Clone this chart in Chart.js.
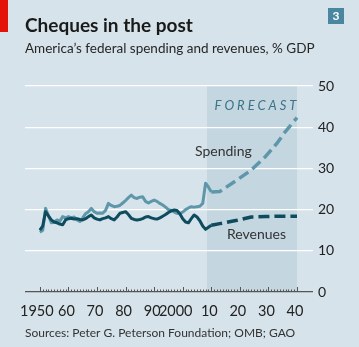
<!DOCTYPE html>
<html>
<head>
<meta charset="utf-8">
<script src="https://cdn.jsdelivr.net/npm/chart.js@4/dist/chart.umd.min.js"></script>
<style>
  html, body { margin: 0; padding: 0; background: #d6e3ea; }
  #wrap { width: 359px; height: 347px; position: relative; }
</style>
</head>
<body>
<div id="wrap"><canvas id="chart"></canvas></div>
<script>
// Cheques in the post - federal spending vs revenues, % GDP

// x-axis decades and their labels
const decadeTicks = [1950, 1960, 1970, 1980, 1990, 2000, 2010, 2020, 2030, 2040];
const decadeLabels = ['1950', '60', '70', '80', '90', '2000', '10', '20', '30', '40'];
const yTicks = [0, 10, 20, 30, 40, 50];

// actual years 1950-2010
const actualYears = Array.from({ length: 61 }, (_, i) => 1950 + i);

const spendingActual = [
    14.5, 15.0, 20.3, 18.5, 16.8, 17.0, 17.5, 17.2, 18.3, 18.0,
    18.3, 18.0, 18.2, 17.5, 17.1, 18.0, 19.0, 19.5, 20.3, 19.5,
    19.1, 19.2, 19.1, 19.8, 21.5, 21.0, 20.7, 20.8, 21.0, 21.6,
    22.2, 22.9, 23.5, 22.9, 22.7, 23.0, 23.1, 22.0, 21.6, 22.0,
    22.3, 22.0, 21.5, 21.1, 20.6, 20.0, 19.8, 19.4, 19.1, 19.0,
    19.4, 20.0, 20.4, 20.7, 20.6, 20.7, 20.8, 21.5, 26.4, 25.5,
    24.3
];

const revenueActual = [
    15.0, 16.0, 19.5, 18.5, 17.5, 17.0, 16.8, 16.5, 16.3, 17.5,
    17.8, 17.9, 17.7, 17.8, 17.6, 17.5, 17.8, 18.3, 18.7, 18.0,
    17.7, 17.5, 17.8, 18.0, 18.3, 17.8, 17.5, 18.2, 19.1, 19.3,
    19.5, 18.8, 17.9, 17.6, 17.5, 17.6, 17.8, 18.2, 18.3, 18.0,
    17.8, 17.7, 18.0, 18.4, 18.8, 19.3, 19.7, 19.9, 19.8, 19.0,
    17.8, 17.0, 16.8, 17.8, 18.7, 18.2, 17.3, 16.0, 15.2, 15.7,
    16.2
];

// forecast
const forecastYears = [2010, 2013, 2019, 2024, 2029, 2033, 2036, 2040];
const spendingForecast = [24.3, 24.4, 27.2, 29.6, 32.9, 36.1, 39.0, 42.3];
const revenueForecast = [16.2, 16.6, 17.4, 18.2, 18.3, 18.4, 18.4, 18.4];

const forecastStart = 2008.5;
const forecastEnd = 2040;

const BG = '#d6e3ea';
const SHADE = '#c4d6e0';
const LIGHT = '#5f97aa';
const DARK = '#0e4b5e';
const FONT = 'Lato, "Open Sans", sans-serif';
const NARROW = '"Liberation Sans Narrow", "Arial Narrow", Lato, sans-serif';

function pts(xs, ys) {
    return xs.map((x, i) => ({ x: x, y: ys[i] }));
}

// background, forecast shading, titles, axis ticks, labels
const decor = {
    id: 'decor',
    beforeDraw(chart) {
        const ctx = chart.ctx;
        const x = chart.scales.x, y = chart.scales.y;
        ctx.save();
        ctx.fillStyle = BG;
        ctx.fillRect(0, 0, chart.width, chart.height);
        ctx.fillStyle = SHADE;
        const x0 = x.getPixelForValue(forecastStart);
        const x1 = x.getPixelForValue(forecastEnd);
        ctx.fillRect(x0, y.getPixelForValue(50), x1 - x0, y.getPixelForValue(0) - y.getPixelForValue(50));
        ctx.restore();
    },
    afterDraw(chart) {
        const ctx = chart.ctx;
        const x = chart.scales.x, y = chart.scales.y;
        ctx.save();

        // red corner tag
        ctx.fillStyle = '#e3120b';
        ctx.fillRect(0, 0, 8, 32);

        // number box
        ctx.fillStyle = '#4a86a0';
        ctx.fillRect(328, 8, 16, 16);
        ctx.fillStyle = '#fff';
        ctx.font = 'bold 12px ' + FONT;
        ctx.textAlign = 'center';
        ctx.textBaseline = 'middle';
        ctx.fillText('3', 336, 16.5);

        // title + subtitle
        ctx.textAlign = 'left';
        ctx.textBaseline = 'alphabetic';
        ctx.fillStyle = '#1a1a1a';
        ctx.font = 'bold 19px ' + FONT;
        ctx.fillText('Cheques in the post', 25, 32);
        ctx.font = '13.5px ' + FONT;
        ctx.fillStyle = '#262626';
        ctx.fillText('America\u2019s federal spending and revenues, % GDP', 25, 52.5);

        // year ticks on the zero line
        const base = y.getPixelForValue(0);
        ctx.strokeStyle = '#555';
        ctx.lineWidth = 1;
        for (let yr = 1950; yr <= 2040; yr++) {
            const px = Math.round(x.getPixelForValue(yr)) + 0.5;
            const len = yr % 10 === 0 ? 5 : 2.5;
            ctx.beginPath();
            ctx.moveTo(px, base);
            ctx.lineTo(px, base - len);
            ctx.stroke();
        }

        // x labels
        ctx.fillStyle = '#222';
        ctx.font = '14.5px ' + NARROW;
        ctx.textAlign = 'center';
        ctx.textBaseline = 'alphabetic';
        decadeTicks.forEach((yr, i) => {
            let dx = -2;
            if (yr === 2000) dx = -7;
            if (yr === 1950) dx = -3;
            ctx.fillText(decadeLabels[i], x.getPixelForValue(yr) + dx, 315.5);
        });

        // series labels
        ctx.font = '14px ' + FONT;
        ctx.textAlign = 'left';
        ctx.textBaseline = 'middle';
        ctx.fillStyle = '#333';
        ctx.fillText('Spending', x.getPixelForValue(2004.3), y.getPixelForValue(34));
        ctx.fillText('Revenues', x.getPixelForValue(2015.5), y.getPixelForValue(14));

        // forecast
        ctx.font = 'italic 13px ' + FONT;
        ctx.fillStyle = '#3b7489';
        ctx.letterSpacing = '3px';
        ctx.textAlign = 'right';
        ctx.fillText('FORECAST', x.getPixelForValue(2039.8) + 3, y.getPixelForValue(45.1));
        ctx.letterSpacing = '0px';

        // source
        ctx.textAlign = 'left';
        ctx.textBaseline = 'alphabetic';
        ctx.fillStyle = '#333';
        ctx.font = '12px ' + FONT;
        ctx.fillText('Sources: Peter G. Peterson Foundation; OMB; GAO', 25, 337);

        ctx.restore();
    }
};

document.addEventListener('DOMContentLoaded', function() {
    const ctx = document.getElementById('chart').getContext('2d');

    new Chart(ctx, {
        type: 'line',
        data: {
            datasets: [{
                label: 'Revenues',
                data: pts(actualYears, revenueActual),
                borderColor: DARK,
                borderWidth: 3
            }, {
                label: 'Revenues forecast',
                data: pts(forecastYears, revenueForecast),
                borderColor: DARK,
                borderWidth: 3.5,
                borderDash: [11, 5]
            }, {
                label: 'Spending',
                data: pts(actualYears, spendingActual),
                borderColor: LIGHT,
                borderWidth: 3
            }, {
                label: 'Spending forecast',
                data: pts(forecastYears, spendingForecast),
                borderColor: LIGHT,
                borderWidth: 3.5,
                borderDash: [11, 5]
            }]
        },
        options: {
            responsive: true,
            maintainAspectRatio: false,
            animation: false,
            layout: { padding: { left: 25, top: 86, right: 0, bottom: 55 } },
            elements: {
                point: { radius: 0 },
                line: { tension: 0, borderJoinStyle: 'round', borderCapStyle: 'butt' }
            },
            plugins: {
                legend: { display: false },
                tooltip: { enabled: false }
            },
            scales: {
                x: {
                    type: 'linear',
                    min: 1944.8,
                    max: 2045.6,
                    grid: { display: false },
                    border: { display: false },
                    ticks: { display: false },
                    afterFit: function(scale) { scale.height = 0; }
                },
                y: {
                    position: 'right',
                    min: 0,
                    max: 50,
                    afterBuildTicks: function(scale) {
                        scale.ticks = yTicks.map(v => ({ value: v }));
                    },
                    afterFit: function(scale) { scale.width = 46; },
                    grid: {
                        drawTicks: false,
                        lineWidth: 1.3,
                        color: function(c) {
                            return c.tick && c.tick.value === 0 ? '#555' : '#ffffff';
                        }
                    },
                    border: { display: false },
                    ticks: {
                        padding: 5,
                        color: '#222',
                        font: { family: FONT, size: 14 }
                    }
                }
            }
        },
        plugins: [decor]
    });
});
</script>
</body>
</html>
